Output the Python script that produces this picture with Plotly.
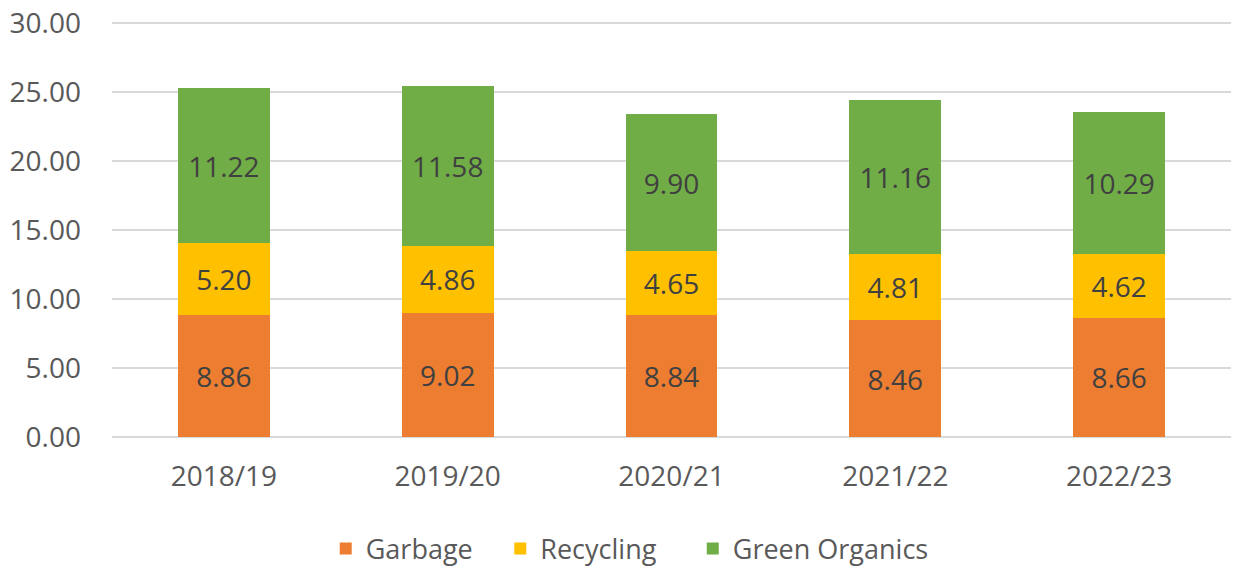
import plotly.graph_objects as go

years = ["2018/19", "2019/20", "2020/21", "2021/22", "2022/23"]
garbage = [8.86, 9.02, 8.84, 8.46, 8.66]
recycling = [5.20, 4.86, 4.65, 4.81, 4.62]
green_organics = [11.22, 11.58, 9.90, 11.16, 10.29]
y_ticks = [0, 5, 10, 15, 20, 25, 30]

series = [
    ("Garbage", garbage, "#ED7D31", "legend", 0.191),
    ("Recycling", recycling, "#FFC000", "legend2", 0.347),
    ("Green Organics", green_organics, "#70AD47", "legend3", 0.519),
]

FONT = "Open Sans"
TXT = "#595959"
fig = go.Figure()
legend_layout = {}
for name, vals, color, leg, lx in series:
    fig.add_trace(go.Bar(
        x=years, y=vals, name=name, legend=leg,
        marker=dict(color=color, line=dict(width=0)),
        text=[f"{v:.2f}" for v in vals],
        textposition="inside", insidetextanchor="middle",
        constraintext="none",
        textfont=dict(family=FONT, size=28, color="#404040"),
    ))
    legend_layout[leg] = dict(orientation="h", x=lx, xanchor="left", y=-0.268, yanchor="middle",
                              font=dict(family=FONT, size=27, color=TXT),
                              itemwidth=30, bgcolor="rgba(0,0,0,0)")

fig.update_layout(
    barmode="stack",
    bargap=0.59,
    width=1235, height=566,
    margin=dict(l=112, r=4, t=19, b=129, autoexpand=False),
    paper_bgcolor="white", plot_bgcolor="white",
    font=dict(family=FONT, size=28, color=TXT),
    showlegend=True,
    xaxis=dict(showgrid=False, showline=False, ticks="", ticklabelstandoff=20,
               automargin=False,
               tickfont=dict(family=FONT, size=28, color=TXT)),
    yaxis=dict(range=[0, 30.3], tickvals=y_ticks, tickformat=".2f",
               showgrid=True, gridcolor="#D9D9D9", gridwidth=2,
               zeroline=True, zerolinecolor="#D9D9D9", zerolinewidth=2,
               showline=False, ticks="", ticklabelstandoff=30,
               automargin=False,
               tickfont=dict(family=FONT, size=28, color=TXT)),
    **legend_layout,
)

fig.write_html("out.html", config={"displayModeBar": False},
               post_script="document.body.style.margin='0';document.body.style.overflow='hidden';")
